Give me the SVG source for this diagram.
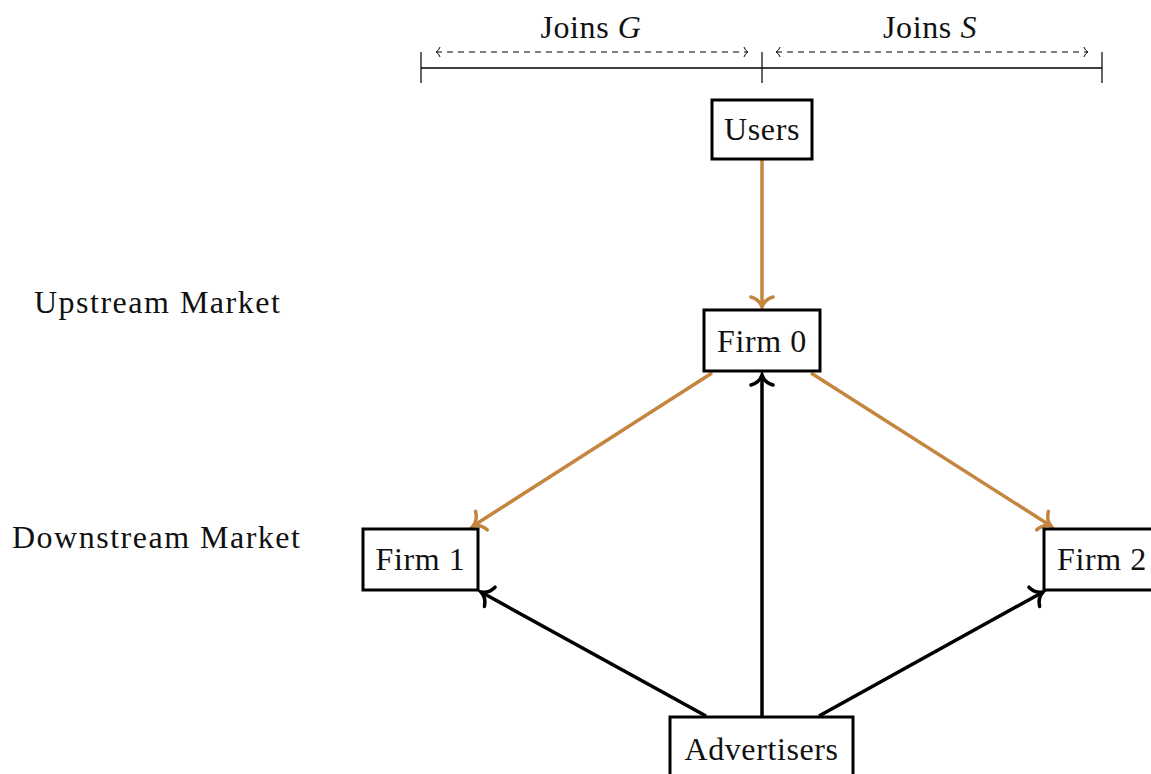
<svg xmlns="http://www.w3.org/2000/svg" width="1151" height="774" viewBox="0 0 1151 774">
<style>
text{font-family:"Liberation Serif","DejaVu Serif",serif;font-size:32px;letter-spacing:0.6px;fill:#111}
.lab{letter-spacing:1.5px}
.box{fill:#fff;stroke:#000;stroke-width:3}
.o{stroke:#c4853e;stroke-width:3.5;fill:none}
.k{stroke:#000;stroke-width:3.5;fill:none}
.thin{stroke:#000;stroke-width:1.2;fill:none}
.dash{stroke:#000;stroke-width:1;fill:none;stroke-dasharray:6,5}
</style>
<defs>
<marker id="ao" markerUnits="userSpaceOnUse" markerWidth="30" markerHeight="30" viewBox="-15 -15 30 30" refX="0" refY="0" orient="auto"><path d="M-10,-11 C-8,-4 -3,-1 0,0 C-3,1 -8,4 -10,11" stroke="#c4853e" stroke-width="3.5" fill="none" stroke-linecap="round"/></marker>
<marker id="ak" markerUnits="userSpaceOnUse" markerWidth="30" markerHeight="30" viewBox="-15 -15 30 30" refX="0" refY="0" orient="auto"><path d="M-10,-11 C-8,-4 -3,-1 0,0 C-3,1 -8,4 -10,11" stroke="#000" stroke-width="3.5" fill="none" stroke-linecap="round"/></marker>
<marker id="as" markerUnits="userSpaceOnUse" markerWidth="14" markerHeight="14" viewBox="-7 -7 14 14" refX="0" refY="0" orient="auto-start-reverse"><path d="M-4,-5 C-3,-2 -1,-0.5 0,0 C-1,0.5 -3,2 -4,5" stroke="#000" stroke-width="1" fill="none"/></marker>
</defs>
<g id="scale">
<line class="thin" x1="421" y1="68" x2="1102" y2="68" style="stroke-width:1.6"/>
<line class="thin" x1="421" y1="52" x2="421" y2="83"/>
<line class="thin" x1="762" y1="52" x2="762" y2="83"/>
<line class="thin" x1="1102" y1="52" x2="1102" y2="83"/>
<line class="dash" x1="436" y1="52" x2="748" y2="52" marker-start="url(#as)" marker-end="url(#as)"/>
<line class="dash" x1="776" y1="52" x2="1088" y2="52" marker-start="url(#as)" marker-end="url(#as)"/>
<text x="591" y="38" text-anchor="middle">Joins <tspan font-style="italic">G</tspan></text>
<text x="930" y="38" text-anchor="middle">Joins <tspan font-style="italic">S</tspan></text>
</g>
<g id="labels">
<text class="lab" x="34" y="313">Upstream Market</text>
<text class="lab" x="12" y="548">Downstream Market</text>
</g>
<g id="connectors">
<line class="o" x1="762" y1="160" x2="762" y2="307" marker-end="url(#ao)"/>
<line class="o" x1="712" y1="373" x2="473" y2="526" marker-end="url(#ao)"/>
<line class="o" x1="811" y1="373" x2="1051" y2="526" marker-end="url(#ao)"/>
<line class="k" x1="706" y1="716" x2="481" y2="592" marker-end="url(#ak)"/>
<line class="k" x1="762" y1="716" x2="762" y2="375" marker-end="url(#ak)"/>
<line class="k" x1="819" y1="716" x2="1043" y2="592" marker-end="url(#ak)"/>
</g>
<g id="users"><rect class="box" x="712" y="100" width="100" height="59"/><text x="762" y="140" text-anchor="middle">Users</text></g>
<g id="firm0"><rect class="box" x="704" y="310" width="116" height="61"/><text x="762" y="352" text-anchor="middle">Firm 0</text></g>
<g id="firm1"><rect class="box" x="363" y="529" width="115" height="61"/><text x="420.5" y="570" text-anchor="middle">Firm 1</text></g>
<g id="firm2"><rect class="box" x="1044" y="529" width="116" height="61"/><text x="1102" y="570" text-anchor="middle">Firm 2</text></g>
<g id="advertisers"><rect class="box" x="670" y="717" width="183" height="66"/><text x="761.5" y="760" text-anchor="middle">Advertisers</text></g>
</svg>
